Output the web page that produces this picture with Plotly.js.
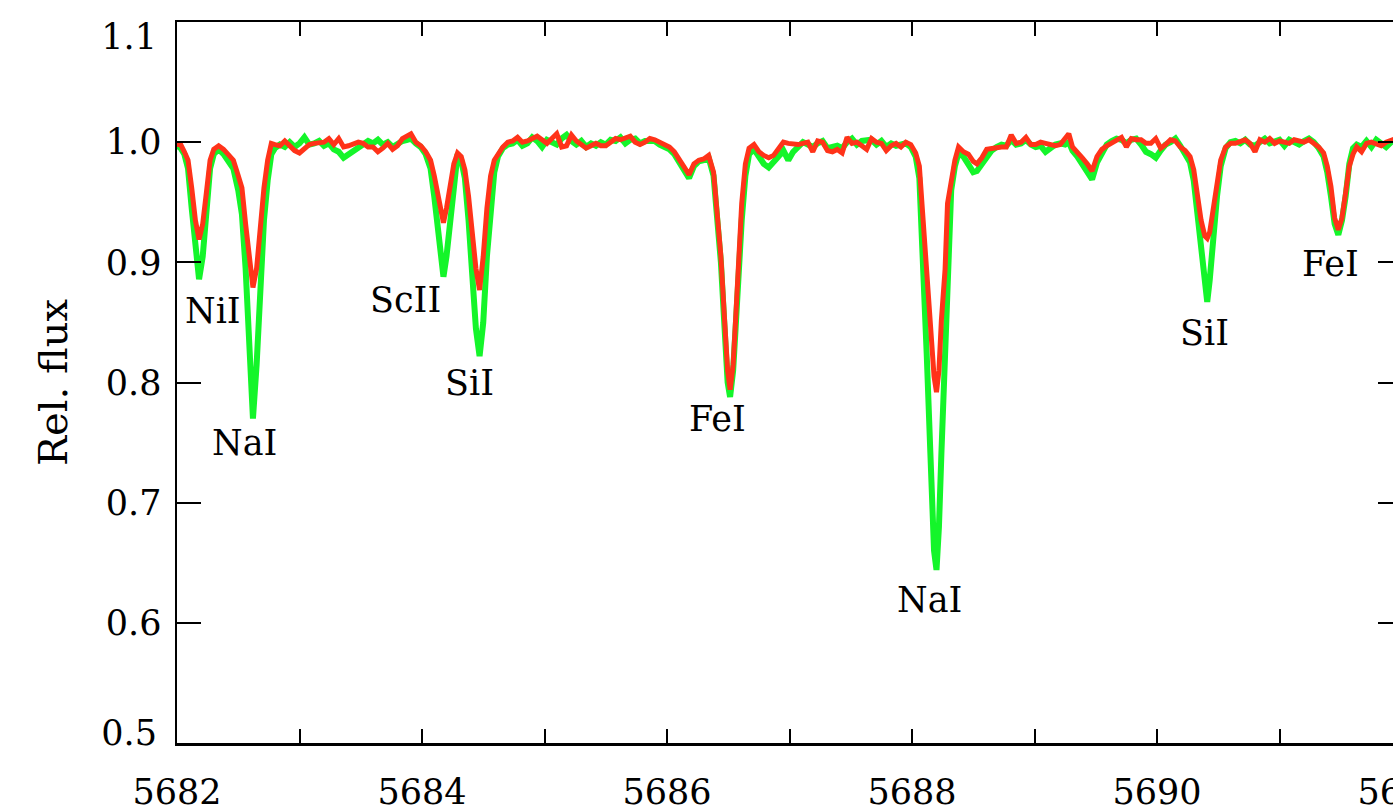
<!DOCTYPE html>
<html>
<head>
<meta charset="utf-8">
<script src="https://cdn.plot.ly/plotly-3.0.1.min.js"></script>
<style>
html,body{margin:0;padding:0;overflow:hidden;background:#fff;}
#chart{width:1420px;height:810px;}
</style>
</head>
<body>
<div id="chart"></div>
<script>
// Wavelength grid (Angstrom)
const wavelength = [
5682.00,5682.03,5682.06,5682.09,5682.12,5682.15,5682.18,5682.21,5682.24,5682.27,
5682.30,5682.34,5682.38,5682.42,5682.46,5682.50,5682.53,5682.56,5682.59,5682.62,
5682.65,5682.68,5682.71,5682.74,5682.77,5682.80,5682.84,5682.88,5682.92,5682.96,
5683.00,5683.04,5683.08,5683.12,5683.16,5683.20,5683.24,5683.28,5683.32,5683.36,
5683.40,5683.44,5683.48,5683.52,5683.56,5683.60,5683.64,5683.68,5683.72,5683.76,
5683.80,5683.84,5683.88,5683.91,5683.95,5683.99,5684.03,5684.07,5684.10,5684.13,
5684.155,5684.175,5684.20,5684.23,5684.26,5684.29,5684.32,5684.35,5684.38,5684.41,
5684.44,5684.47,5684.50,5684.53,5684.56,5684.59,5684.62,5684.66,5684.70,5684.74,
5684.78,5684.82,5684.86,5684.90,5684.94,5684.98,5685.02,5685.06,5685.10,5685.14,
5685.18,5685.22,5685.26,5685.30,5685.34,5685.38,5685.42,5685.46,5685.50,5685.54,
5685.58,5685.62,5685.66,5685.70,5685.74,5685.78,5685.82,5685.86,5685.90,5685.94,
5685.98,5686.02,5686.06,5686.10,5686.14,5686.18,5686.22,5686.26,5686.30,5686.34,
5686.38,5686.41,5686.44,5686.47,5686.495,5686.515,5686.54,5686.56,5686.585,5686.61,
5686.64,5686.67,5686.71,5686.75,5686.79,5686.83,5686.87,5686.91,5686.95,5686.99,
5687.03,5687.07,5687.11,5687.15,5687.19,5687.23,5687.27,5687.31,5687.35,5687.39,
5687.43,5687.47,5687.51,5687.55,5687.59,5687.63,5687.67,5687.71,5687.75,5687.79,
5687.83,5687.87,5687.91,5687.95,5687.99,5688.03,5688.06,5688.09,5688.12,5688.15,
5688.18,5688.20,5688.22,5688.24,5688.27,5688.29,5688.32,5688.35,5688.38,5688.42,
5688.46,5688.50,5688.53,5688.57,5688.61,5688.65,5688.69,5688.73,5688.77,5688.81,
5688.85,5688.89,5688.93,5688.97,5689.01,5689.05,5689.09,5689.13,5689.17,5689.21,
5689.25,5689.28,5689.31,5689.35,5689.39,5689.43,5689.47,5689.51,5689.55,5689.59,
5689.63,5689.67,5689.71,5689.75,5689.79,5689.83,5689.87,5689.91,5689.95,5689.99,
5690.03,5690.07,5690.11,5690.15,5690.19,5690.23,5690.27,5690.30,5690.33,5690.36,
5690.39,5690.41,5690.43,5690.46,5690.49,5690.52,5690.56,5690.60,5690.64,5690.68,
5690.72,5690.76,5690.80,5690.84,5690.88,5690.92,5690.96,5691.00,5691.04,5691.08,
5691.12,5691.16,5691.20,5691.24,5691.28,5691.32,5691.36,5691.39,5691.42,5691.45,
5691.48,5691.51,5691.54,5691.57,5691.60,5691.63,5691.67,5691.71,5691.75,5691.79,
5691.83,5691.87,5691.91,5691.95,5692.00
];

// Green spectrum (relative flux)
const fluxGreen = [
0.997,0.995,0.990,0.978,0.945,0.910,0.886,0.905,0.945,0.978,
0.990,0.994,0.990,0.984,0.978,0.960,0.940,0.895,0.830,0.770,
0.815,0.880,0.935,0.968,0.990,0.995,0.998,0.996,1.000,0.996,
0.999,1.004,0.998,0.999,1.001,0.997,0.999,0.994,0.992,0.987,
0.990,0.992,0.996,0.998,1.001,0.999,1.002,0.998,1.000,0.996,
0.999,1.001,1.002,1.003,0.999,0.996,0.990,0.978,0.955,0.925,
0.900,0.888,0.905,0.935,0.968,0.990,0.985,0.970,0.935,0.885,
0.845,0.822,0.850,0.905,0.945,0.975,0.988,0.995,0.998,0.999,
1.002,0.997,0.999,1.004,1.001,0.996,1.002,1.000,0.998,1.003,
1.006,1.001,0.998,1.001,0.996,0.999,0.997,1.000,0.998,1.002,
1.001,1.004,0.999,1.002,1.003,0.999,1.001,1.001,1.001,0.998,
0.996,0.994,0.990,0.984,0.976,0.970,0.980,0.984,0.985,0.987,
0.972,0.940,0.900,0.845,0.800,0.788,0.810,0.845,0.895,0.935,
0.972,0.990,0.994,0.988,0.982,0.979,0.983,0.988,0.993,0.985,
0.992,0.996,1.000,0.998,0.996,0.999,1.001,0.995,0.996,0.997,
0.995,1.000,1.003,0.998,1.001,1.002,1.002,0.998,1.001,0.996,
0.999,0.997,0.998,0.999,0.996,0.988,0.970,0.908,0.824,0.741,
0.660,0.644,0.680,0.741,0.824,0.908,0.960,0.980,0.991,0.988,
0.982,0.975,0.976,0.982,0.988,0.993,0.996,0.998,0.997,1.002,
0.998,0.999,1.002,0.998,0.996,0.997,0.992,0.995,0.998,0.999,
0.998,1.000,0.993,0.988,0.982,0.975,0.969,0.983,0.992,0.998,
1.001,1.003,1.002,0.999,1.002,1.003,0.998,0.992,0.990,0.987,
0.993,0.998,1.000,1.003,0.997,0.991,0.983,0.968,0.942,0.915,
0.880,0.867,0.885,0.925,0.955,0.980,0.995,1.000,1.001,0.999,
1.002,0.998,0.997,1.000,1.003,0.999,1.001,1.002,0.997,1.002,
1.000,0.998,1.001,1.003,1.000,0.995,0.988,0.975,0.955,0.932,
0.923,0.935,0.955,0.982,0.995,0.998,0.996,1.001,0.996,1.002,
0.999,0.996,1.000,1.001,1.000
];

// Red spectrum (relative flux)
const fluxRed = [
0.998,0.998,0.992,0.985,0.962,0.935,0.919,0.932,0.958,0.985,
0.994,0.997,0.994,0.990,0.985,0.972,0.962,0.932,0.900,0.879,
0.895,0.930,0.962,0.985,0.999,0.998,0.997,1.001,0.997,0.993,
0.991,0.994,0.998,0.999,0.999,1.000,1.003,0.998,1.003,0.996,
0.997,0.999,1.000,0.999,0.996,0.996,0.992,0.995,0.999,0.994,
0.997,1.003,1.005,1.007,1.000,0.997,0.992,0.985,0.972,0.955,
0.940,0.933,0.945,0.963,0.982,0.991,0.988,0.977,0.955,0.925,
0.895,0.877,0.905,0.945,0.972,0.985,0.990,0.996,1.000,1.001,
1.004,1.000,1.001,1.003,1.005,1.002,0.999,1.003,1.007,0.996,
0.997,1.006,1.001,0.998,0.995,0.997,0.999,0.997,0.997,1.000,
1.003,1.002,1.004,1.005,1.000,0.998,1.000,1.003,1.002,1.000,
0.999,0.996,0.992,0.985,0.978,0.973,0.982,0.985,0.986,0.989,
0.975,0.945,0.905,0.852,0.810,0.794,0.815,0.852,0.908,0.949,
0.982,0.995,0.998,0.992,0.989,0.987,0.989,0.995,1.000,0.999,
0.998,0.998,0.999,1.000,0.992,1.001,1.000,0.993,0.992,0.994,
0.991,1.004,0.999,1.000,0.997,0.994,1.003,1.000,0.999,0.993,
0.997,0.999,0.996,1.000,0.998,0.991,0.980,0.935,0.894,0.852,
0.805,0.792,0.810,0.852,0.894,0.949,0.970,0.985,0.996,0.992,
0.990,0.984,0.982,0.987,0.994,0.995,0.995,0.996,0.996,1.006,
0.999,1.000,1.004,0.998,0.998,1.000,0.999,0.998,0.997,0.998,
1.004,1.007,0.996,0.992,0.987,0.982,0.976,0.988,0.994,0.997,
0.999,1.002,1.004,0.996,1.003,1.002,1.002,0.999,0.999,1.003,
0.995,0.998,1.002,1.001,0.996,0.993,0.988,0.977,0.955,0.935,
0.922,0.920,0.925,0.945,0.963,0.985,0.996,0.999,0.999,1.001,
1.002,0.999,0.992,1.002,1.000,1.003,0.999,1.001,1.000,0.999,
1.002,1.001,1.000,1.002,0.999,0.996,0.991,0.980,0.963,0.937,
0.927,0.937,0.958,0.980,0.990,0.996,0.992,0.999,1.000,0.998,
0.997,1.000,1.002,1.003,1.001
];

// Line identifications
const lineLabels = ['NiI','NaI','ScII','SiI','FeI','NaI','SiI','FeI'];
const labelWave  = [5682.294,5682.555,5683.869,5684.384,5686.416,5688.139,5690.384,5691.42];
const labelFlux  = [0.8595,0.7497,0.8687,0.7996,0.7696,0.619,0.8412,0.8986];

// Axis ticks
const xTickVals = [5682,5684,5686,5688,5690,5692];
const xTickText = ['5682','5684','5686','5688','5690','5692'];
const yTickVals = [0.5,0.6,0.7,0.8,0.9,1.0,1.1];
const yTickText = ['0.5','0.6','0.7','0.8','0.9','1.0','1.1'];
const yInnerText = ['0.6','0.7','0.8','0.9','1.0'];

const FONT = 'DejaVu Serif, Liberation Serif, serif';
const tickFont = {family:FONT, size:35, color:'#000'};

const traces = [
  {x: wavelength, y: fluxGreen, type:'scatter', mode:'lines',
   line:{color:'#14f52a', width:6}, hoverinfo:'skip'},
  {x: wavelength, y: fluxRed, type:'scatter', mode:'lines',
   line:{color:'#ff3319', width:5}, hoverinfo:'skip'}
];

const annotations = lineLabels.map((t,i)=>({
  x: labelWave[i], y: labelFlux[i], xref:'x', yref:'y',
  text: t, showarrow:false, xanchor:'center', yanchor:'middle',
  font:{family:FONT, size:35, color:'#000'}
}));

// helper axis (labels only) for a single end tick
function labelAxis(val, txt, shift){
  return {
    overlaying:'y', side:'left', matches:'y', range:[0.5,1.1],
    showgrid:false, zeroline:false, showline:false, ticks:'',
    tickvals:[val], ticktext:[txt], tickfont:tickFont,
    ticklabelstandoff:19, ticklabelshift:shift, ticklabeloverflow:'allow'
  };
}

const layout = {
  width:1420, height:810,
  margin:{l:177, r:18, t:22, b:67, pad:0},
  paper_bgcolor:'#fff', plot_bgcolor:'#fff',
  showlegend:false,
  font:{family:FONT, color:'#000'},
  xaxis:{
    range:[5682,5692], showgrid:false, zeroline:false,
    showline:true, linecolor:'#000', linewidth:2.5, mirror:'allticks',
    ticks:'inside', ticklen:14, tickwidth:2, tickcolor:'#000',
    tickvals:xTickVals, ticktext:xTickText, tickfont:tickFont,
    ticklabelstandoff:16, ticklabeloverflow:'allow',
    minor:{dtick:1, tick0:5682, ticks:'inside', ticklen:7, tickwidth:2, tickcolor:'#000', showgrid:false}
  },
  yaxis:{
    range:[0.5,1.1], showgrid:false, zeroline:false,
    showline:true, linecolor:'#000', linewidth:2.5, mirror:false,
    ticks:'inside', ticklen:24, tickwidth:2, tickcolor:'#000',
    tickvals:yTickVals, ticktext:yTickText.map(t => yInnerText.includes(t) ? t : ' '),
    tickfont:tickFont, ticklabelstandoff:6, ticklabeloverflow:'allow',
    title:{text:'Rel. flux', font:{family:FONT, size:40, color:'#000'}, standoff:26}
  },
  yaxis2:{
    overlaying:'y', side:'right', matches:'y', range:[0.5,1.1],
    showgrid:false, zeroline:false, showline:false,
    ticks:'inside', ticklen:24, tickwidth:2, tickcolor:'#000',
    tickvals:yTickVals, showticklabels:false
  },
  yaxis3: labelAxis(1.1, '1.1', 15),
  yaxis4: labelAxis(0.5, '0.5', -10),
  annotations: annotations
};

// invisible helper traces to activate the extra tick axes
['y2','y3','y4'].forEach(ax => traces.push({x:[5682], y:[1.0], yaxis:ax, type:'scatter', mode:'markers',
  marker:{opacity:0}, hoverinfo:'skip', showlegend:false}));

Plotly.newPlot('chart', traces, layout, {displayModeBar:false, staticPlot:true});
</script>
</body>
</html>
